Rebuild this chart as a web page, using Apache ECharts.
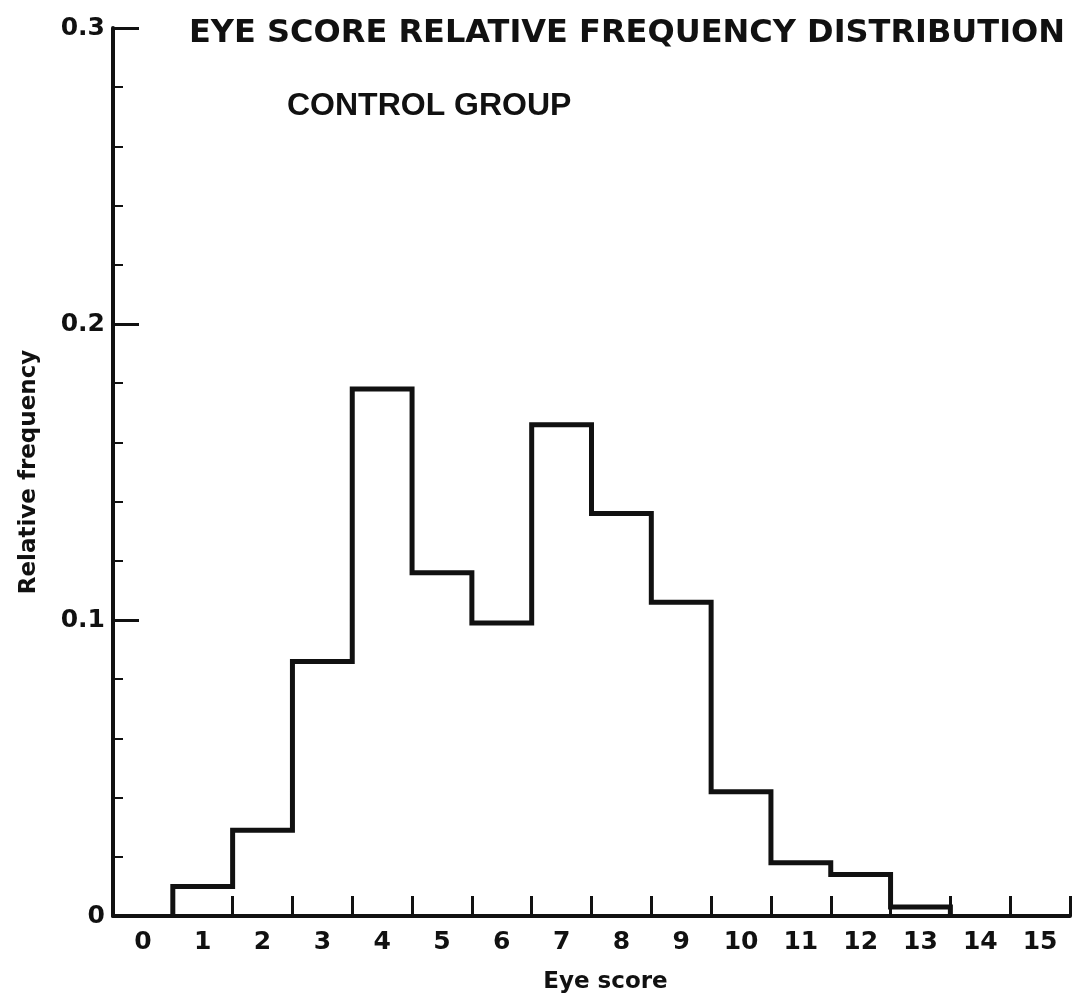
<!DOCTYPE html>
<html>
<head>
<meta charset="utf-8">
<script src="https://cdn.jsdelivr.net/npm/echarts@6/dist/echarts.min.js"></script>
<style>
html,body{margin:0;padding:0;background:#fff;}
#chart{width:1079px;height:1004px;}
</style>
</head>
<body>
<div id="chart"></div>
<script>
// Eye score categories (x tick labels)
var eyeScores = ['0','1','2','3','4','5','6','7','8','9','10','11','12','13','14','15'];
// Relative frequency per eye score (control group)
var relFreq = [0, 0.010, 0.029, 0.086, 0.178, 0.116, 0.099, 0.166, 0.136, 0.106, 0.042, 0.018, 0.014, 0.003, 0, 0];
// y tick labels
var yTickLabels = {'0':'0', '0.1':'0.1', '0.2':'0.2', '0.3':'0.3'};
var titleText = 'EYE SCORE RELATIVE FREQUENCY DISTRIBUTION';
var subTitleText = 'CONTROL GROUP';
var xName = 'Eye score';
var yName = 'Relative frequency';

// build histogram outline from bins (edges at half-integers)
var first = -1, last = -1;
for (var i = 0; i < relFreq.length; i++) { if (relFreq[i] > 0) { if (first < 0) first = i; last = i; } }
var outline = [[first - 0.5, 0]];
for (var j = first; j <= last; j++) {
  outline.push([j - 0.5, relFreq[j]]);
  outline.push([j + 0.5, relFreq[j]]);
}
outline.push([last + 0.5, 0]);

var labelFont = "'DejaVu Sans', sans-serif";
var chart = echarts.init(document.getElementById('chart'));
chart.setOption({
  backgroundColor: '#ffffff',
  animation: false,
  title: [
    {text: titleText, left: 184, top: 13,
     textStyle: {fontFamily: "'DejaVu Sans', sans-serif", fontWeight: 'bold', fontSize: 32, color: '#111'}},
    {text: subTitleText, left: 282, top: 85,
     textStyle: {fontFamily: "'Liberation Sans', sans-serif", fontWeight: 'bold', fontSize: 32, color: '#111'}}
  ],
  grid: {left: 113, right: 9, top: 28, bottom: 88, containLabel: false},
  xAxis: [
    {type: 'category', data: eyeScores, boundaryGap: true,
     name: xName, nameLocation: 'middle', nameGap: 55,
     nameTextStyle: {fontFamily: labelFont, fontWeight: 'bold', fontSize: 23, color: '#111', padding: [0, 0, 0, 28]},
     axisLine: {lineStyle: {color: '#111', width: 4}},
     axisTick: {show: true, inside: true, length: 20, lineStyle: {color: '#111', width: 3}},
     axisLabel: {fontFamily: labelFont, fontWeight: 'bold', fontSize: 25, color: '#111', margin: 14, interval: 0},
     splitLine: {show: false}},
    {type: 'value', min: -0.5, max: 15.5, show: false, splitLine: {show: false}}
  ],
  yAxis: {
    type: 'value', min: 0, max: 0.3, interval: 0.1,
    name: yName, nameLocation: 'middle', nameGap: 72, nameRotate: 90,
    nameTextStyle: {fontFamily: labelFont, fontWeight: 'bold', fontSize: 23, color: '#111'},
    axisLine: {show: true, onZero: false, lineStyle: {color: '#111', width: 4}},
    axisTick: {show: true, inside: true, length: 26, lineStyle: {color: '#111', width: 3}},
    minorTick: {show: true, splitNumber: 5, length: 10, lineStyle: {color: '#111', width: 2}},
    axisLabel: {fontFamily: labelFont, fontWeight: 'bold', fontSize: 25, color: '#111', margin: 8,
      formatter: function (v) { var k = String(Math.round(v * 10) / 10); return yTickLabels[k] !== undefined ? yTickLabels[k] : k; }},
    splitLine: {show: false}
  },
  series: [{
    type: 'line', xAxisIndex: 1, data: outline, symbol: 'none',
    lineStyle: {color: '#111', width: 5, join: 'miter'}, z: 3
  }]
});
</script>
</body>
</html>
